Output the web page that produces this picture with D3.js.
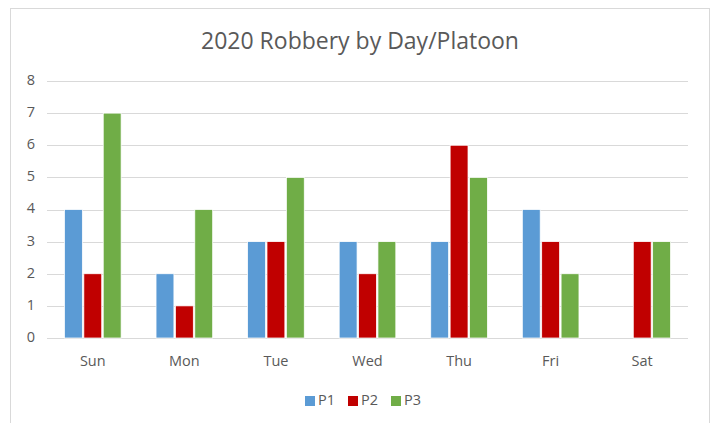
<!DOCTYPE html>
<html>
<head>
<meta charset="utf-8">
<script src="https://cdn.jsdelivr.net/npm/d3@7"></script>
<style>
  body { margin: 0; background: #fff; }
  svg { display: block; }
</style>
</head>
<body>
<svg id="chart" width="714" height="423"></svg>
<script>
const days = ["Sun", "Mon", "Tue", "Wed", "Thu", "Fri", "Sat"];
const platoons = ["P1", "P2", "P3"];
const p1 = [4, 2, 3, 3, 3, 4, 0];
const p2 = [2, 1, 3, 2, 6, 3, 3];
const p3 = [7, 4, 5, 3, 5, 2, 3];
const colors = ["#5b9bd5", "#c00000", "#70ad47"];
const yTicks = [0, 1, 2, 3, 4, 5, 6, 7, 8];

const svg = d3.select("#chart");
const font = "'Open Sans', 'Liberation Sans', sans-serif";

// chart frame
svg.append("rect")
    .attr("x", 10.5).attr("y", 8.5)
    .attr("width", 699).attr("height", 430)
    .attr("fill", "#fff")
    .attr("stroke", "#d9d9d9");

const plotLeft = 47, plotRight = 688, plotTop = 81, plotBottom = 338;

const x0 = d3.scaleBand().domain(days).range([plotLeft, plotRight]).padding(0);
const x1 = d3.scaleBand().domain(platoons)
    .range([0, x0.bandwidth() * 0.635])
    .padding(0);
const y = d3.scaleLinear().domain([0, 8]).range([plotBottom, plotTop]);

// gridlines
svg.append("g").selectAll("line")
    .data(yTicks)
    .join("line")
    .attr("x1", plotLeft).attr("x2", plotRight)
    .attr("y1", d => Math.round(y(d)) + 0.5)
    .attr("y2", d => Math.round(y(d)) + 0.5)
    .attr("stroke", "#d9d9d9");

// y labels
svg.append("g").selectAll("text")
    .data(yTicks)
    .join("text")
    .attr("x", 35)
    .attr("y", d => y(d))
    .attr("text-anchor", "end")
    .attr("dominant-baseline", "middle")
    .attr("fill", "#595959")
    .style("font-family", font)
    .style("font-size", "14.5px")
    .text(d => d);

// bars
const series = [p1, p2, p3];
const rows = days.map((d, i) => ({ day: d, vals: platoons.map((p, j) => ({ p, j, v: series[j][i] })) }));

const groups = svg.append("g").selectAll("g")
    .data(rows)
    .join("g")
    .attr("transform", d => `translate(${x0(d.day) + (x0.bandwidth() - x1.range()[1]) / 2},0)`);

groups.selectAll("rect")
    .data(d => d.vals.filter(v => v.v > 0))
    .join("rect")
    .attr("x", d => x1(d.p) + 0.75)
    .attr("width", x1.bandwidth() - 1.5)
    .attr("y", d => y(d.v))
    .attr("height", d => y(0) - y(d.v))
    .attr("fill", d => colors[d.j])
    .attr("stroke", "#fff")
    .attr("stroke-width", 0.75);

// x labels
svg.append("g").selectAll("text")
    .data(days)
    .join("text")
    .attr("x", d => x0(d) + x0.bandwidth() / 2)
    .attr("y", 362)
    .attr("text-anchor", "middle")
    .attr("dominant-baseline", "middle")
    .attr("fill", "#595959")
    .style("font-family", font)
    .style("font-size", "14.5px")
    .text(d => d);

// title
svg.append("text")
    .attr("x", 360).attr("y", 43)
    .attr("text-anchor", "middle")
    .attr("dominant-baseline", "middle")
    .attr("fill", "#595959")
    .style("font-family", font)
    .style("font-size", "23px")
    .text("2020 Robbery by Day/Platoon");

// legend
const legend = svg.append("g").selectAll("g")
    .data(platoons)
    .join("g")
    .attr("transform", (d, i) => `translate(${305 + i * 43},401)`);

legend.append("rect")
    .attr("x", 0).attr("y", -5)
    .attr("width", 10).attr("height", 10)
    .attr("fill", (d, i) => colors[i]);

legend.append("text")
    .attr("x", 13).attr("y", 0)
    .attr("dominant-baseline", "middle")
    .attr("fill", "#595959")
    .style("font-family", font)
    .style("font-size", "14.5px")
    .text(d => d);
</script>
</body>
</html>
